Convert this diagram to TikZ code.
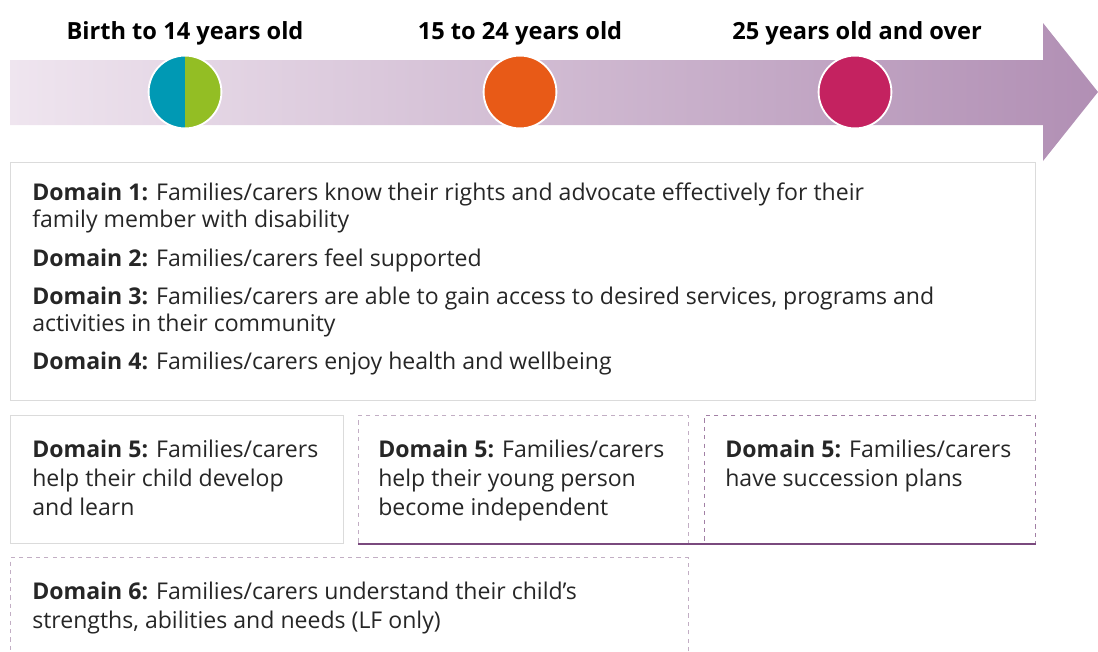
\documentclass[tikz,border=0pt]{standalone}
\usepackage{fontspec}
\setmainfont{Open Sans}
\usetikzlibrary{positioning, calc}
\definecolor{bandlight}{HTML}{EFE5EF}
\definecolor{banddark}{HTML}{B18FB4}
\definecolor{kidteal}{HTML}{0099B4}
\definecolor{kidgreen}{HTML}{93BE24}
\definecolor{youthorange}{HTML}{E85A17}
\definecolor{adultpink}{HTML}{C42260}
\definecolor{lilac}{HTML}{C2AEC4}
\definecolor{plum}{HTML}{7A4A7E}
\definecolor{textgrey}{HTML}{262626}

\begin{document}
\begin{tikzpicture}[
    x=0.025cm, y=-0.025cm,
    ageball/.style={circle, draw=white, line width=1.3pt, minimum size=1.82cm, inner sep=0pt},
    agelabel/.style={font=\bfseries\fontsize{16.8}{20}\selectfont, text=black, anchor=base},
    plainbox/.style={draw=black!14, line width=0.7pt, anchor=north west, inner sep=0pt},
    dashbox/.style={draw=lilac, dashed, line width=0.6pt, anchor=north west, inner sep=0pt},
    domtext/.style={anchor=north west, inner sep=0pt, align=left, text=textgrey,
                    font=\fontsize{16.4}{19}\selectfont},
    domtextwide/.style={domtext, font=\fontsize{16.4}{20.6}\selectfont}
]
    \useasboundingbox (0,0) rectangle (1098,651);

    \shade[left color=bandlight, right color=banddark]
        (10,60) -- (1043,60) -- (1043,23) -- (1098,92) -- (1043,161) -- (1043,125) -- (10,125) -- cycle;

    \node[ageball, path picture={
        \fill[kidteal] (path picture bounding box.south west) rectangle (path picture bounding box.north);
        \fill[kidgreen] (path picture bounding box.south) rectangle (path picture bounding box.north east);}]
        (kid) at (185,92) {};
    \node[ageball, fill=youthorange] (youth) at (520,92) {};
    \node[ageball, fill=adultpink] (adult) at (855,92) {};

    \node[agelabel] (kidlab) at (185,39) {Birth to 14 years old};
    \node[agelabel] (youthlab) at (520,39) {15 to 24 years old};
    \node[agelabel] (adultlab) at (857,39) {25 years old and over};

    \node[plainbox, minimum width=25.625cm, minimum height=5.95cm] (dall) at (10,162) {};
    \node[domtext] (dalltext) at ($(dall.north west)+(22,21)$) {%
        \textbf{Domain 1:} Families/carers know their rights and advocate effectively for their\\
        family member with disability\\[8.3pt]
        \textbf{Domain 2:} Families/carers feel supported\\[8.3pt]
        \textbf{Domain 3:} Families/carers are able to gain access to desired services, programs and\\
        activities in their community\\[8.3pt]
        \textbf{Domain 4:} Families/carers enjoy health and wellbeing};

    \node[plainbox, minimum width=8.325cm, minimum height=3.2cm] (dkid) at (10,415) {};
    \node[domtextwide] (dkidtext) at ($(dkid.north west)+(22,25)$) {%
        \textbf{Domain 5:} Families/carers\\
        help their child develop\\
        and learn};

    \node[dashbox, minimum width=8.25cm, minimum height=3.2cm] (dyouth) at (358,415) {};
    \node[domtextwide] (dyouthtext) at ($(dyouth.north west)+(20,25)$) {%
        \textbf{Domain 5:} Families/carers\\
        help their young person\\
        become independent};

    \node[dashbox, draw=plum!70, minimum width=8.275cm, minimum height=3.2cm] (dadult) at (704,415) {};
    \node[domtextwide] (dadulttext) at ($(dadult.north west)+(21,25)$) {%
        \textbf{Domain 5:} Families/carers\\
        have succession plans};

    \draw[plum, line width=1.6pt] (dyouth.south west) -- (dadult.south east);

    \node[dashbox, minimum width=16.95cm, minimum height=2.9cm] (dlf) at (10,557) {};
    \node[domtextwide] (dlftext) at ($(dlf.north west)+(22,25)$) {%
        \textbf{Domain 6:} Families/carers understand their child’s\\
        strengths, abilities and needs (LF only)};
\end{tikzpicture}
\end{document}
